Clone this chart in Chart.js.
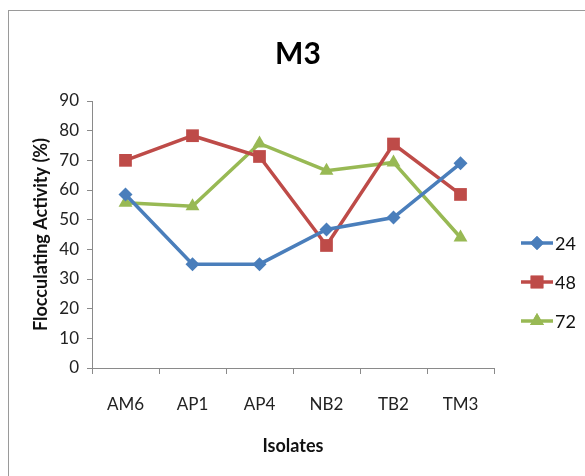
<!DOCTYPE html>
<html>
<head>
<meta charset="utf-8">
<script src="https://cdn.jsdelivr.net/npm/chart.js@4/dist/chart.umd.min.js"></script>
<style>
  html, body { margin: 0; padding: 0; background: #fff; overflow: hidden; }
  #wrap { position: relative; width: 585px; height: 476px; }
  #frame { position: absolute; left: 8px; top: 10px; width: 600px; height: 500px; border: 1px solid #9a9a9a; box-sizing: border-box; }
  canvas { position: absolute; left: 0; top: 0; }
</style>
</head>
<body>
<div id="wrap">
  <div id="frame"></div>
  <canvas id="c" width="585" height="476"></canvas>
</div>
<script>
const isolates = ['AM6', 'AP1', 'AP4', 'NB2', 'TB2', 'TM3'];
const hours = ['24', '48', '72'];
const act24 = [58.5, 35, 35, 46.7, 50.7, 69];
const act48 = [70, 78.3, 71.3, 41.3, 75.5, 58.5];
const act72 = [55.7, 54.5, 75.7, 66.5, 69.3, 44];
const yTicks = [0, 10, 20, 30, 40, 50, 60, 70, 80, 90];
const chartTitle = 'M3';

const FONT = 'Lato, "Open Sans", sans-serif';
const colors = ['#4A7EBB', '#BE4B48', '#98B954'];
const styles = ['rectRot', 'rect', 'triangle'];
const radii = [7, 9, 8];
const series = [act24, act48, act72];

// Title centred on the whole frame, not just the plot box
const frameTitle = {
  id: 'frameTitle',
  afterDraw(chart) {
    const ctx = chart.ctx;
    ctx.save();
    ctx.fillStyle = '#000';
    ctx.font = 'bold 30px ' + FONT;
    ctx.textAlign = 'center';
    ctx.textBaseline = 'middle';
    ctx.fillText(chartTitle, 298, 54);
    ctx.restore();
  }
};

// Legend drawn as line + marker + label, stacked on the right
const sideLegend = {
  id: 'sideLegend',
  afterDraw(chart) {
    const ctx = chart.ctx;
    const ys = [243, 282, 321];
    chart.data.datasets.forEach((ds, i) => {
      const y = ys[i];
      ctx.save();
      ctx.strokeStyle = ds.borderColor;
      ctx.lineWidth = 3.5;
      ctx.beginPath();
      ctx.moveTo(521, y);
      ctx.lineTo(553, y);
      ctx.stroke();
      ctx.fillStyle = ds.backgroundColor;
      Chart.helpers.drawPoint(ctx, { pointStyle: ds.pointStyle, radius: ds.pointRadius, borderWidth: 0 }, 537, y);
      ctx.fill();
      ctx.fillStyle = '#111';
      ctx.font = '18px ' + FONT;
      ctx.textBaseline = 'middle';
      ctx.fillText(ds.label, 555, y + 1);
      ctx.restore();
    });
  }
};

new Chart(document.getElementById('c'), {
  type: 'line',
  data: {
    labels: isolates,
    datasets: hours.map((h, i) => ({
      label: h,
      data: series[i],
      borderColor: colors[i],
      backgroundColor: colors[i],
      borderWidth: 3.5,
      pointStyle: styles[i],
      pointRadius: radii[i],
      pointHoverRadius: radii[i],
      pointBorderWidth: 0,
      tension: 0
    }))
  },
  options: {
    responsive: false,
    animation: false,
    devicePixelRatio: 1,
    layout: { padding: { left: 30, right: 91, top: 101, bottom: 15 } },
    plugins: {
      legend: { display: false },
      tooltip: { enabled: false },
      title: { display: false }
    },
    scales: {
      x: {
        offset: true,
        grid: { display: true, drawOnChartArea: false, offset: true, tickLength: 6, color: '#8a8a8a' },
        border: { color: '#8a8a8a', width: 1 },
        ticks: { color: '#222', font: { family: FONT, size: 17 }, padding: 20 },
        title: { display: true, text: 'Isolates', color: '#111', font: { family: FONT, size: 18, weight: 'bold' } },
        afterFit(s) { s.height = 93; }
      },
      y: {
        min: 0, max: 90,
        afterBuildTicks(s) { s.ticks = yTicks.map(v => ({ value: v })); },
        grid: { display: true, drawOnChartArea: false, tickLength: 5, color: '#8a8a8a' },
        border: { color: '#8a8a8a', width: 1 },
        ticks: { color: '#222', font: { family: FONT, size: 17 }, padding: 8 },
        title: { display: true, text: 'Flocculating Activity (%)', color: '#111', font: { family: FONT, size: 18, weight: 'bold' }, padding: { top: 0, bottom: 6 } },
        afterFit(s) { s.width = 62; }
      }
    }
  },
  plugins: [frameTitle, sideLegend]
});
</script>
</body>
</html>
